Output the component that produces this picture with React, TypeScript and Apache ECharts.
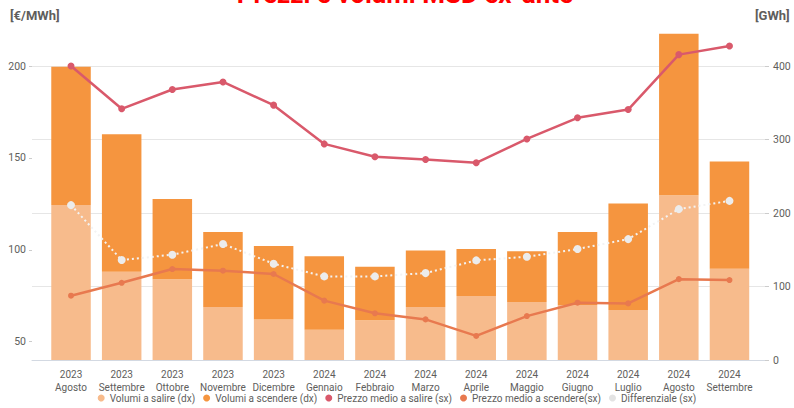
import React, { useEffect, useRef } from "react";
import * as echarts from "echarts";

const years = ["2023", "2023", "2023", "2023", "2023", "2024", "2024", "2024", "2024", "2024", "2024", "2024", "2024", "2024"];
const months = ["Agosto", "Settembre", "Ottobre", "Novembre", "Dicembre", "Gennaio", "Febbraio", "Marzo", "Aprile", "Maggio", "Giugno", "Luglio", "Agosto", "Settembre"];

const volumiSalire = [211, 120, 110, 72, 55, 41, 54, 72, 87, 79, 75, 68, 224, 124];
const volumiScendere = [188, 187, 109, 102, 100, 100, 73, 77, 64, 69, 99, 145, 220, 146];
const prezzoSalire = [200, 176.7, 187.2, 191.3, 178.7, 157.6, 150.6, 149.1, 147.3, 160.3, 171.8, 176.3, 206.2, 210.9];
const prezzoScendere = [75, 82, 89.5, 88.6, 86.8, 72.3, 65.4, 62.1, 53.1, 63.9, 71.2, 70.8, 84, 83.5];
const differenziale = [124.3, 94.4, 97.3, 103.1, 92.4, 85.5, 85.5, 87.3, 94.2, 96.2, 100.4, 105.8, 122.1, 126.6];

const leftTicks = [50, 100, 150, 200];

const FONT = "Roboto, 'Open Sans', sans-serif";
const GREY = "#605e5c";

export default function App() {
  const ref = useRef<HTMLDivElement>(null);
  useEffect(() => {
    if (!ref.current) return;
    const chart = echarts.init(ref.current, undefined, { renderer: "svg" });
    const categories = years.map((y, i) => `${y}\n${months[i]}`);
    chart.setOption({
      animation: false,
      textStyle: { fontFamily: FONT },
      graphic: [
        {
          type: "text",
          x: 405,
          y: -6,
          style: {
            text: "Prezzi e volumi MSD ex-ante",
            fill: "#ff0000",
            font: `bold 26px ${FONT}`,
            align: "center",
            verticalAlign: "middle",
          },
        },
        {
          type: "text",
          x: 10,
          y: 9,
          style: { text: "[€/MWh]", fill: GREY, font: `bold 13px ${FONT}` },
        },
        {
          type: "text",
          x: 755,
          y: 9,
          style: { text: "[GWh]", fill: GREY, font: `bold 13px ${FONT}` },
        },
      ],
      legend: {
        bottom: 0,
        left: "center",
        icon: "circle",
        itemWidth: 7,
        itemHeight: 7,
        itemGap: 8,
        textStyle: { color: GREY, fontSize: 10, fontFamily: FONT },
        data: [
          { name: "Volumi a salire (dx)", itemStyle: { color: "#f7bb8c" } },
          { name: "Volumi a scendere (dx)", itemStyle: { color: "#f5953f" } },
          { name: "Prezzo medio a salire (sx)", itemStyle: { color: "#d9596b" } },
          { name: "Prezzo medio a scendere(sx)", itemStyle: { color: "#e8794f" } },
          { name: "Differenziale (sx)", itemStyle: { color: "#e3e3e3" } },
        ],
      },
      grid: [
        { left: 45.7, right: 39.2, top: -7.5, bottom: 48, outerBoundsMode: "none" },
        { left: 32, right: 29, top: -7.5, bottom: 48, outerBoundsMode: "none" },
      ],
      xAxis: [
        {
          type: "category",
          gridIndex: 0,
          data: categories,
          axisLine: { show: false },
          axisTick: { show: false },
          axisLabel: { color: GREY, fontSize: 10, lineHeight: 13, margin: 8, interval: 0, fontFamily: FONT },
        },
        {
          type: "value",
          gridIndex: 1,
          min: 0,
          max: 1,
          axisLine: { show: true, lineStyle: { color: "#d3d9e2", width: 1 } },
          axisTick: { show: false },
          axisLabel: { show: false },
          splitLine: { show: false },
        },
      ],
      yAxis: [
        { type: "value", gridIndex: 0, min: 40, max: 240, show: false },
        { type: "value", gridIndex: 0, min: 0, max: 500, show: false },
        {
          type: "value",
          gridIndex: 1,
          position: "left",
          min: 40,
          max: 240,
          axisLine: { show: false },
          splitLine: { show: false },
          axisTick: { show: true, length: 3, customValues: leftTicks, lineStyle: { color: "#cccccc" } },
          axisLabel: { customValues: leftTicks, color: GREY, fontSize: 10.5, margin: 6, fontFamily: FONT },
        },
        {
          type: "value",
          gridIndex: 1,
          position: "right",
          min: 0,
          max: 500,
          interval: 100,
          axisLine: { show: false },
          splitLine: { show: true, lineStyle: { color: "#e6e6e6", width: 1 } },
          axisTick: { show: true, length: 4, lineStyle: { color: "#cccccc" } },
          axisLabel: { color: GREY, fontSize: 10.5, margin: 8, showMaxLabel: false, fontFamily: FONT },
        },
      ],
      series: [
        {
          name: "Volumi a salire (dx)",
          type: "bar",
          xAxisIndex: 0,
          yAxisIndex: 1,
          stack: "vol",
          barWidth: "78%",
          itemStyle: { color: "#f7bb8c" },
          data: volumiSalire,
        },
        {
          name: "Volumi a scendere (dx)",
          type: "bar",
          xAxisIndex: 0,
          yAxisIndex: 1,
          stack: "vol",
          barWidth: "78%",
          itemStyle: { color: "#f5953f" },
          data: volumiScendere,
        },
        {
          name: "Differenziale (sx)",
          type: "line",
          xAxisIndex: 0,
          yAxisIndex: 0,
          symbol: "circle",
          symbolSize: 8,
          itemStyle: { color: "#ececec" },
          lineStyle: { color: "#f3f3f3", width: 2, type: [2, 3] },
          data: differenziale,
          z: 3,
        },
        {
          name: "Prezzo medio a scendere(sx)",
          type: "line",
          xAxisIndex: 0,
          yAxisIndex: 0,
          symbol: "circle",
          symbolSize: 6,
          itemStyle: { color: "#e8794f" },
          lineStyle: { color: "#e8794f", width: 2.5 },
          data: prezzoScendere,
          z: 4,
        },
        {
          name: "Prezzo medio a salire (sx)",
          type: "line",
          xAxisIndex: 0,
          yAxisIndex: 0,
          symbol: "circle",
          symbolSize: 7,
          itemStyle: { color: "#d9596b" },
          lineStyle: { color: "#d9596b", width: 2.5 },
          data: prezzoSalire,
          z: 5,
        },
      ],
    });
    return () => chart.dispose();
  }, []);
  return <div ref={ref} style={{ width: 794, height: 408, position: "absolute", left: 0, top: 0 }} />;
}
